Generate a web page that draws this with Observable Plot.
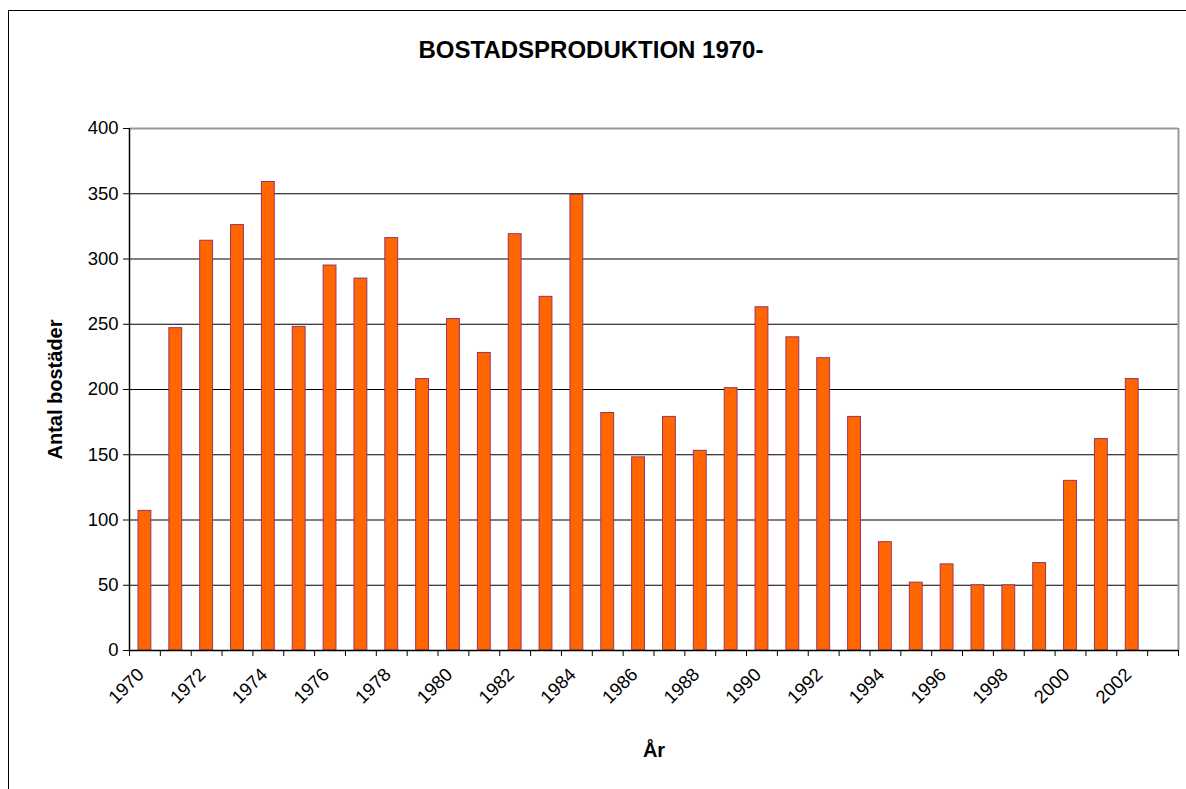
<!DOCTYPE html>
<html>
<head>
<meta charset="utf-8">
<script src="https://cdn.jsdelivr.net/npm/d3@7"></script>
<script src="https://cdn.jsdelivr.net/npm/@observablehq/plot@0.6"></script>
<style>
  html, body { margin: 0; padding: 0; background: #fff; overflow: hidden; }
  body { width: 1186px; height: 789px; position: relative; font-family: "Liberation Sans", Arial, sans-serif; }
  #frame { position: absolute; left: 8px; top: 10px; width: 1200px; height: 800px; border: 1px solid #000; box-sizing: border-box; }
  #title { position: absolute; left: 0; top: 36px; width: 1182px; text-align: center; font-weight: bold; font-size: 24px; color: #000; }
  #chart { position: absolute; left: 0; top: 0; }
  #chart svg { background: transparent; }
  #chart svg g[aria-label="x-axis tick label"] text,
  #chart svg g[aria-label="y-axis tick label"] text { font-size: 18.5px; font-weight: normal; }
  #chart svg g[aria-label="y-axis label"] text,
  #chart svg g[aria-label="x-axis label"] text { font-size: 20px; font-weight: bold; }
</style>
</head>
<body>
<div id="frame"></div>
<div id="title"></div>
<div id="chart"></div>
<script>
// Data
const years = [1970, 1971, 1972, 1973, 1974, 1975, 1976, 1977, 1978, 1979,
               1980, 1981, 1982, 1983, 1984, 1985, 1986, 1987, 1988, 1989,
               1990, 1991, 1992, 1993, 1994, 1995, 1996, 1997, 1998, 1999,
               2000, 2001, 2002];
const values = [107, 247, 314, 326, 359, 248, 295, 285, 316, 208,
                254, 228, 319, 271, 349, 182, 148, 179, 153, 201,
                263, 240, 224, 179, 83, 52, 66, 50, 50, 67,
                130, 162, 208];
const xTickLabels = ["1970", "1972", "1974", "1976", "1978", "1980", "1982", "1984",
                     "1986", "1988", "1990", "1992", "1994", "1996", "1998", "2000", "2002"];
const yTicks = [0, 50, 100, 150, 200, 250, 300, 350, 400];
const xDomain = [1970, 2004]; // one empty slot for 2003
const titleText = "BOSTADSPRODUKTION 1970-";
const yLabel = "Antal bostäder";
const xLabel = "År";

const data = years.map((year, i) => ({year, value: values[i]}));
const slotEdges = d3.range(xDomain[0], xDomain[1] + 1);
const labelPositions = xTickLabels.map(s => +s + 0.5);

const chart = Plot.plot({
  width: 1186,
  height: 789,
  marginLeft: 129,
  marginRight: 8,
  marginTop: 128,
  marginBottom: 139,
  style: {fontFamily: "'Liberation Sans', Arial, sans-serif", fontSize: "17px", color: "#000", background: "transparent"},
  x: {type: "linear", domain: xDomain},
  y: {domain: [0, 400]},
  marks: [
    Plot.gridY(yTicks.filter(v => v > 0 && v < 400), {stroke: "#000", strokeOpacity: 1, strokeWidth: 1}),
    Plot.rectY(data, {x: "year", y: "value", interval: 1, insetLeft: 9, insetRight: 9,
                      fill: "#FF6600", stroke: "#993366", strokeWidth: 1}),
    Plot.ruleY([400], {stroke: "#999", strokeWidth: 2}),
    Plot.ruleX([xDomain[1]], {stroke: "#999", strokeWidth: 2}),
    Plot.ruleX([xDomain[0]], {stroke: "#000", strokeWidth: 1.5}),
    Plot.ruleY([0], {stroke: "#000", strokeWidth: 1.5}),
    Plot.axisY({ticks: yTicks, tickSize: 6, tickPadding: 5, fontSize: 17,
                label: yLabel, labelAnchor: "center", labelOffset: 82, labelArrow: "none"}),
    Plot.axisX({ticks: slotEdges, tickSize: 6, tickFormat: () => "", label: null}),
    Plot.axisX({ticks: labelPositions, tickSize: 0, tickPadding: 21, dx: -4, fontSize: 17,
                tickFormat: d => String(Math.floor(d)), tickRotate: -45, textAnchor: "end",
                label: xLabel, labelAnchor: "center", labelOffset: 106, labelArrow: "none"})
  ]
});
document.getElementById("chart").appendChild(chart);
document.getElementById("title").textContent = titleText;
</script>
</body>
</html>
